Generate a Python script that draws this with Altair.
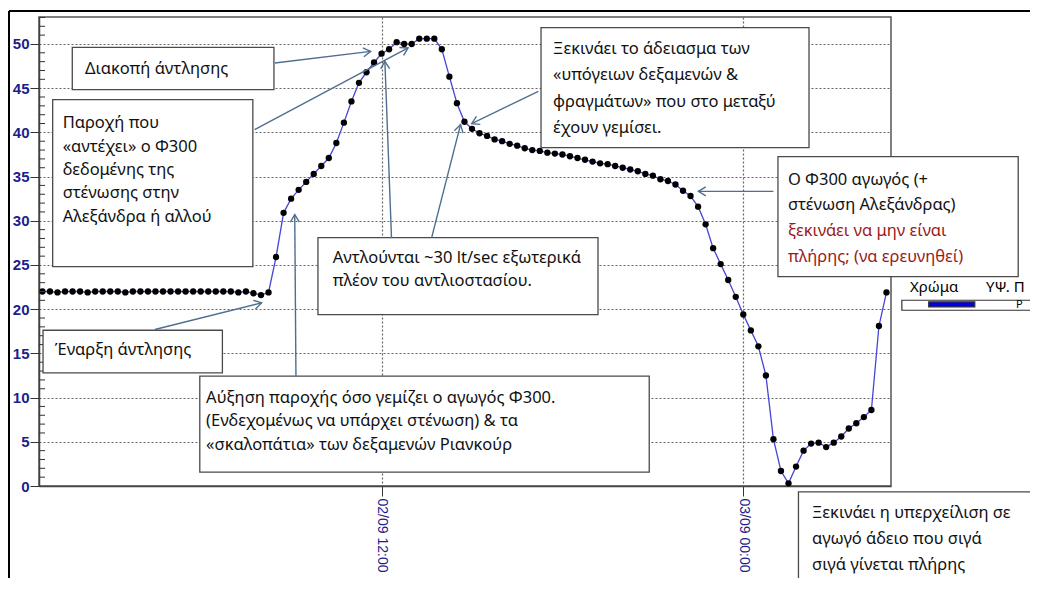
import math
import altair as alt
import pandas as pd

# ---------------- data ----------------
# readings every 15 minutes, x in hours counted from 02/09 00:00
first_hour = 0.75
step_hours = 0.25
flow = [
    22.0, 22.0, 21.9, 22.0, 22.0, 22.0, 21.9, 22.0, 22.0, 22.0,
    22.0, 21.9, 22.0, 22.0, 22.0, 22.0, 22.0, 22.0, 22.0, 22.0,
    22.0, 22.0, 22.0, 22.0, 22.0, 22.0, 21.9, 22.0, 21.8, 21.6, 21.9,
    25.9, 30.9, 32.5, 33.5, 34.4, 35.3, 36.2, 37.1, 38.8, 41.1,
    43.5, 45.6, 46.8, 47.9, 48.9, 49.4, 50.2, 50.0, 50.0, 50.6,
    50.6, 50.6, 49.4, 46.3, 43.3, 41.2, 40.4,
    39.9, 39.6, 39.2, 39.0, 38.7, 38.5, 38.2, 38.0, 37.9, 37.7,
    37.6, 37.5, 37.3, 37.1, 36.9, 36.7, 36.5, 36.4, 36.2, 36.0,
    35.8, 35.6, 35.3, 35.1, 34.7, 34.5, 34.1,
    33.4, 32.8, 31.6, 29.6, 26.9, 25.1, 23.3, 21.4, 19.4, 17.6,
    15.8, 12.5, 5.3, 1.7, 0.3, 2.2, 4.0, 4.8, 4.9, 4.4,
    4.9, 5.6, 6.5, 7.1, 7.8, 8.6, 18.1, 21.9,
]
hours = [first_hour + i * step_hours for i in range(len(flow))]

x_ticks = [12, 24]
x_tick_labels = ["02/09 12:00", "03/09 00:00"]
y_ticks = [0, 5, 10, 15, 20, 25, 30, 35, 40, 45, 50]
y_minor = [v for v in range(0, 54) if v % 5 != 0]

X_DOMAIN = [0.636, 28.9]
Y_DOMAIN = [0, 53.05]
W, H = 852, 469

# annotation boxes (x1, x2, y1, y2) in data units
boxes = pd.DataFrame(
    [
        (1.74, 8.43, 44.83, 49.62),
        (1.09, 7.73, 24.82, 43.70),
        (17.29, 26.18, 38.27, 51.84),
        (25.15, 33.12, 23.69, 37.26),
        (9.89, 19.18, 19.39, 28.10),
        (0.77, 6.72, 12.80, 17.62),
        (5.97, 20.88, 1.56, 12.42),
        (25.83, 33.57, -12.8, -0.66),
    ],
    columns=["x1", "x2", "y1", "y2"],
)

BLACK = "#111111"
RED = "#9b1b1b"
notes = pd.DataFrame(
    [
        (2.16, 47.21, "Διακοπή άντλησης", BLACK),
        (1.42, 41.10, "Παροχή που", BLACK),
        (1.42, 38.39, "«αντέχει» ο Φ300", BLACK),
        (1.42, 35.79, "δεδομένης της", BLACK),
        (1.42, 33.19, "στένωσης στην", BLACK),
        (1.42, 30.47, "Αλεξάνδρα ή αλλού", BLACK),
        (17.69, 49.47, "Ξεκινάει το άδειασμα των", BLACK),
        (17.69, 46.53, "«υπόγειων δεξαμενών &", BLACK),
        (17.69, 43.48, "φραγμάτων» που στο μεταξύ", BLACK),
        (17.69, 40.54, "έχουν γεμίσει.", BLACK),
        (25.48, 34.66, "Ο Φ300 αγωγός (+", BLACK),
        (25.48, 31.83, "στένωση Αλεξάνδρας)", BLACK),
        (25.48, 28.89, "ξεκινάει να μην είναι", RED),
        (25.48, 25.95, "πλήρης; (να ερευνηθεί)", RED),
        (10.38, 25.84, "Αντλούνται ~30 lt/sec εξωτερικά", BLACK),
        (10.38, 23.24, "πλέον του αντλιοστασίου.", BLACK),
        (1.16, 15.43, "Έναρξη άντλησης", BLACK),
        (6.18, 10.01, "Αύξηση παροχής όσο γεμίζει ο αγωγός Φ300.", BLACK),
        (6.18, 7.30, "(Ενδεχομένως να υπάρχει στένωση) & τα", BLACK),
        (6.18, 4.69, "«σκαλοπάτια» των δεξαμενών Ριανκούρ", BLACK),
        (26.28, -3.11, "Ξεκινάει η υπερχείλιση σε", BLACK),
        (26.28, -6.05, "αγωγό άδειο που σιγά", BLACK),
        (26.28, -8.99, "σιγά γίνεται πλήρης", BLACK),
    ],
    columns=["x", "y", "text", "color"],
)

# arrows: from (x1, y1) to head at (x2, y2), data units
arrows = pd.DataFrame(
    [
        (8.46, 47.85, 11.64, 49.16),
        (7.79, 40.31, 12.88, 49.55),
        (17.20, 44.64, 14.99, 40.99),
        (25.00, 33.33, 22.51, 33.33),
        (12.33, 28.06, 12.11, 48.03),
        (13.66, 28.06, 14.62, 40.88),
        (4.48, 17.70, 8.02, 20.71),
        (9.16, 12.42, 9.12, 30.70),
    ],
    columns=["x1", "y1", "x2", "y2"],
)
sx = W / (X_DOMAIN[1] - X_DOMAIN[0])
sy = H / (Y_DOMAIN[1] - Y_DOMAIN[0])
arrows["angle"] = [
    math.degrees(math.atan2(-(r.y2 - r.y1) * sy, (r.x2 - r.x1) * sx)) % 360
    for r in arrows.itertuples()
]

# legend fragment at the right edge
legend_rects = pd.DataFrame(
    [(29.26, 34.2, 19.88, 21.01, "white"), (30.15, 31.68, 20.26, 20.83, "#0000ee")],
    columns=["x1", "x2", "y1", "y2", "fill"],
)
legend_texts = pd.DataFrame(
    [(29.53, 22.50, "Χρώμα", 15), (32.05, 22.50, "ΥΨ. Π", 15), (33.05, 20.42, "Ρ", 11)],
    columns=["x", "y", "text", "size"],
)

# ---------------- chart ----------------
NAVY = "#1d1d8c"
FONT = "Noto Sans"

xs = alt.Scale(domain=X_DOMAIN, nice=False, zero=False)
ys = alt.Scale(domain=Y_DOMAIN, nice=False, zero=False)


def X(field, **kw):
    return alt.X(field, scale=xs, title=None, **kw)


def Y(field, **kw):
    return alt.Y(field, scale=ys, title=None, **kw)


series = pd.DataFrame({"h": hours, "flow": flow})

label_expr = " : ".join(
    f"datum.value == {v} ? '{t}'" for v, t in zip(x_ticks[:-1], x_tick_labels[:-1])
) + f" : '{x_tick_labels[-1]}'"

base = alt.Chart(series)

line = base.mark_line(color="#4545d6", strokeWidth=1.3).encode(
    x=X(
        "h:Q",
        axis=alt.Axis(
            values=x_ticks,
            labelExpr=label_expr,
            labelAngle=90,
            labelFontSize=14,
            labelPadding=2,
            tickSize=10,
        ),
    ),
    y=Y(
        "flow:Q",
        axis=alt.Axis(
            values=y_ticks,
            labelFontSize=15,
            labelFontWeight="bold",
            labelPadding=1,
            tickSize=9,
        ),
    ),
)

points = base.mark_circle(size=40, color="black", opacity=1).encode(
    x=X("h:Q"), y=Y("flow:Q")
)

minor = (
    alt.Chart(pd.DataFrame({"t": y_minor}))
    .mark_rule(color="#333", strokeWidth=1)
    .encode(y=Y("t:Q"), x=alt.value(0), x2=alt.value(6))
)

box_layer = (
    alt.Chart(boxes)
    .mark_rect(fill="white", stroke="#4a4a4a", strokeWidth=1.3, clip=False)
    .encode(x=X("x1:Q"), x2="x2:Q", y=Y("y1:Q"), y2="y2:Q")
)

arrow_lines = (
    alt.Chart(arrows)
    .mark_rule(color="#4f6e90", strokeWidth=1.4)
    .encode(x=X("x1:Q"), y=Y("y1:Q"), x2="x2:Q", y2="y2:Q")
)

arrow_heads = (
    alt.Chart(arrows)
    .mark_point(
        shape="M-1,-0.6L0,0L-1,0.6",
        filled=False,
        color="#4f6e90",
        strokeWidth=1.4,
        size=220,
        opacity=1,
    )
    .encode(
        x=X("x2:Q"),
        y=Y("y2:Q"),
        angle=alt.Angle("angle:Q", scale=None),
    )
)

note_text = (
    alt.Chart(notes)
    .mark_text(align="left", baseline="middle", font=FONT, fontSize=16.5)
    .encode(
        x=X("x:Q"),
        y=Y("y:Q"),
        text="text:N",
        color=alt.Color("color:N", scale=None),
    )
)

leg_rects = (
    alt.Chart(legend_rects)
    .mark_rect(stroke="#333", strokeWidth=1.2, clip=False)
    .encode(
        x=X("x1:Q"),
        x2="x2:Q",
        y=Y("y1:Q"),
        y2="y2:Q",
        fill=alt.Fill("fill:N", scale=None),
    )
)
leg_text = (
    alt.Chart(legend_texts)
    .mark_text(align="left", baseline="middle", font=FONT, color="black")
    .encode(
        x=X("x:Q"),
        y=Y("y:Q"),
        text="text:N",
        size=alt.Size("size:Q", scale=None),
    )
)

frame_top = (
    alt.Chart(pd.DataFrame({"k": [0]}))
    .mark_rule(color="black", strokeWidth=2)
    .encode(x=alt.value(-30), x2=alt.value(1000), y=alt.value(-6))
)
frame_left = (
    alt.Chart(pd.DataFrame({"k": [0]}))
    .mark_rule(color="black", strokeWidth=2)
    .encode(x=alt.value(-30), y=alt.value(-6), y2=alt.value(700))
)

chart = (
    alt.layer(
        line,
        points,
        minor,
        box_layer,
        arrow_lines,
        arrow_heads,
        note_text,
        leg_rects,
        leg_text,
        frame_top,
        frame_left,
    )
    .properties(
        width=W,
        height=H,
        padding={"left": 31, "top": 9, "right": 139, "bottom": 92},
        autosize=alt.AutoSizeParams(type="none"),
        background="white",
    )
    .configure_view(stroke="#555", strokeWidth=1.5)
    .configure_axis(
        labelFont="Liberation Sans",
        labelColor=NAVY,
        tickColor="#333",
        domainColor="#444",
        domainWidth=1.5,
        grid=True,
        gridColor="#666",
        gridDash=[2, 2],
        gridWidth=1.2,
        titleFontSize=1,
    )
)

chart.save("out.html", embed_options={"renderer": "svg", "actions": False})
